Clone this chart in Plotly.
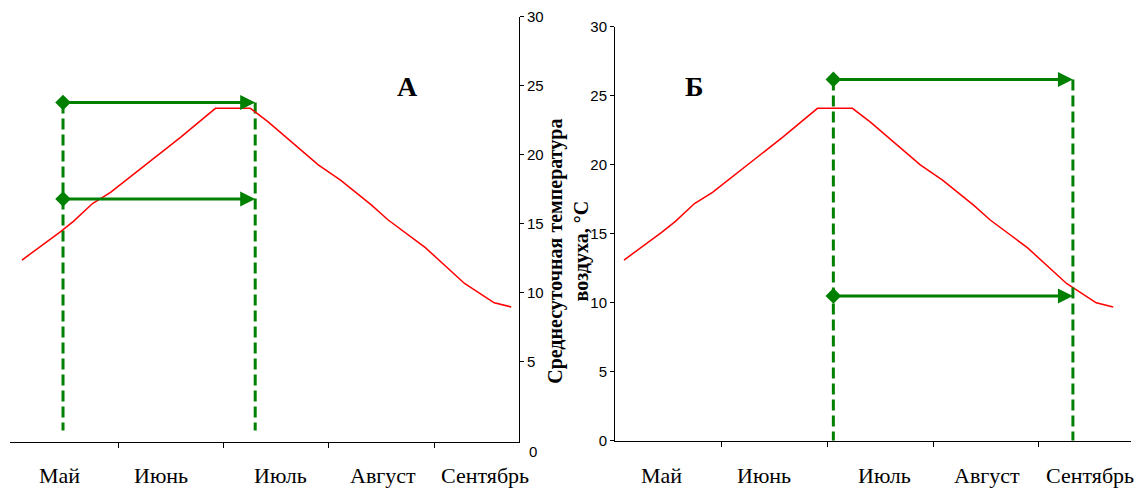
import plotly.graph_objects as go

# ---------------- data ----------------
months = ["Май", "Июнь", "Июль", "Август", "Сентябрь"]
month_bounds = [1, 2, 3, 4]            # month boundaries (month units from 1 May)
y_ticks = [0, 5, 10, 15, 20, 25, 30]

# daily mean air temperature curve (x in months from 1 May, y in °C)
curve_x = [0.085, 0.44, 0.57, 0.75, 0.92, 1.23, 1.58, 1.91, 2.24, 2.41,
           2.71, 2.88, 3.09, 3.23, 3.38, 3.54, 3.89, 4.26, 4.54, 4.70]
curve_t = [13.1, 15.1, 15.9, 17.2, 18.0, 19.9, 22.0, 24.1, 24.1, 23.1,
           21.1, 20.0, 18.9, 18.0, 17.1, 16.0, 14.0, 11.4, 10.0, 9.7]

# panel A: period start/end (months) and arrow levels (°C, on panel's own axis)
a_start, a_end = 0.475, 2.30
a_levels = [23.8, 16.8]
# panel Б
b_start, b_end = 2.06, 4.32
b_levels = [26.2, 10.5]

GREEN = "#008000"
W, H = 1141, 489
V_OFF, V_SCALE = 9.0, 0.966   # vertical placement calibration of the photographed page


def px(x):
    return x / W


def py(y):
    return 1 - (y - V_OFF) / (H * V_SCALE)


fig = go.Figure()

# ---- panel A curve (hidden axes x3/y3) ----
fig.add_trace(go.Scatter(x=curve_x, y=curve_t, mode="lines", xaxis="x3", yaxis="y3",
                         line=dict(color="red", width=1.5), showlegend=False, hoverinfo="skip"))
# ---- panel Б curve ----
fig.add_trace(go.Scatter(x=curve_x, y=curve_t, mode="lines", xaxis="x2", yaxis="y2",
                         line=dict(color="red", width=1.5), showlegend=False, hoverinfo="skip"))


def add_period(xa, ya, start, end, levels):
    top = max(levels)
    for xv in (start, end):
        fig.add_trace(go.Scatter(x=[xv, xv], y=[top, 0], mode="lines", xaxis=xa, yaxis=ya,
                                 line=dict(color=GREEN, width=3, dash="11px,5px"),
                                 showlegend=False, hoverinfo="skip"))
    fig.add_trace(go.Scatter(x=[start] * len(levels), y=levels, mode="markers", xaxis=xa, yaxis=ya,
                             marker=dict(symbol="diamond", size=12, color=GREEN),
                             showlegend=False, hoverinfo="skip"))
    for lv in levels:
        fig.add_annotation(x=end, y=lv, ax=start, ay=lv, xref=xa, yref=ya, axref=xa, ayref=ya,
                           showarrow=True, arrowhead=2, arrowsize=1, arrowwidth=3,
                           arrowcolor=GREEN, text="")


add_period("x", "y", a_start, a_end, a_levels)
add_period("x2", "y2", b_start, b_end, b_levels)


def text_ann(x, y, text, size, family="Liberation Serif", xref="paper", angle=0):
    fig.add_annotation(x=x, y=y, xref=xref, yref="paper", text=text, showarrow=False,
                       xanchor="center", yanchor="middle", textangle=angle,
                       font=dict(family=family, size=size, color="black"))


# month labels
label_pos = [0.44, 1.41, 2.54, 3.51, 4.48]
for xa in ("x", "x2"):
    for m, p in zip(months, label_pos):
        text_ann(p, py(476), m, 22, xref=xa)

# panel letters
text_ann(px(408), py(87), "<b>А</b>", 28)
text_ann(px(694), py(87), "<b>Б</b>", 28)

# y axis title for panel A
text_ann(px(569), py(252), "<b>Среднесуточная температура<br>воздуха, °С</b>", 20, angle=-90)
# "0" label of panel A axis
text_ann(px(533), py(452), "0", 15, family="Liberation Sans")

tickfont = dict(family="Liberation Sans", size=15, color="black")
base_x = dict(showline=True, linecolor="black", linewidth=1, ticks="outside", ticklen=5,
              tickcolor="black", tickvals=month_bounds, showticklabels=False,
              showgrid=False, zeroline=False, fixedrange=True)
base_y = dict(showline=True, linecolor="black", linewidth=1, ticks="outside", ticklen=4,
              tickcolor="black", showgrid=False, zeroline=False, tickfont=tickfont, fixedrange=True)

fig.update_layout(
    autosize=True,
    margin=dict(l=0, r=0, t=0, b=0),
    paper_bgcolor="white", plot_bgcolor="rgba(0,0,0,0)",
    showlegend=False,
    # panel A visible axes
    xaxis=dict(**base_x, domain=[px(10), px(519)], range=[-0.0285, 4.805], anchor="y"),
    yaxis=dict(**base_y, domain=[py(442), py(17)], range=[-0.8, 30], anchor="x", side="right",
               tickvals=y_ticks[1:]),
    # panel Б axes
    xaxis2=dict(**base_x, domain=[px(615), px(1131)], range=[0, 4.868], anchor="y2"),
    yaxis2=dict(**base_y, domain=[py(441), py(27)], range=[0, 30], anchor="x2", tickvals=y_ticks),
    # panel A curve axes (hidden)
    xaxis3=dict(domain=[px(13), px(529)], range=[0, 4.868], anchor="y3", visible=False, fixedrange=True),
    yaxis3=dict(domain=[py(441), py(27)], range=[0, 30], anchor="x3", visible=False, fixedrange=True),
)

post = ("document.body.style.margin='0';document.body.style.overflow='hidden';"
        "var gd=document.getElementById('{plot_id}');gd.style.position='fixed';"
        "gd.style.top='0px';gd.style.left='0px';Plotly.Plots.resize(gd);")
fig.write_html("out.html", config={"displayModeBar": False, "responsive": True},
               post_script=post, default_width="100vw", default_height="100vh")
